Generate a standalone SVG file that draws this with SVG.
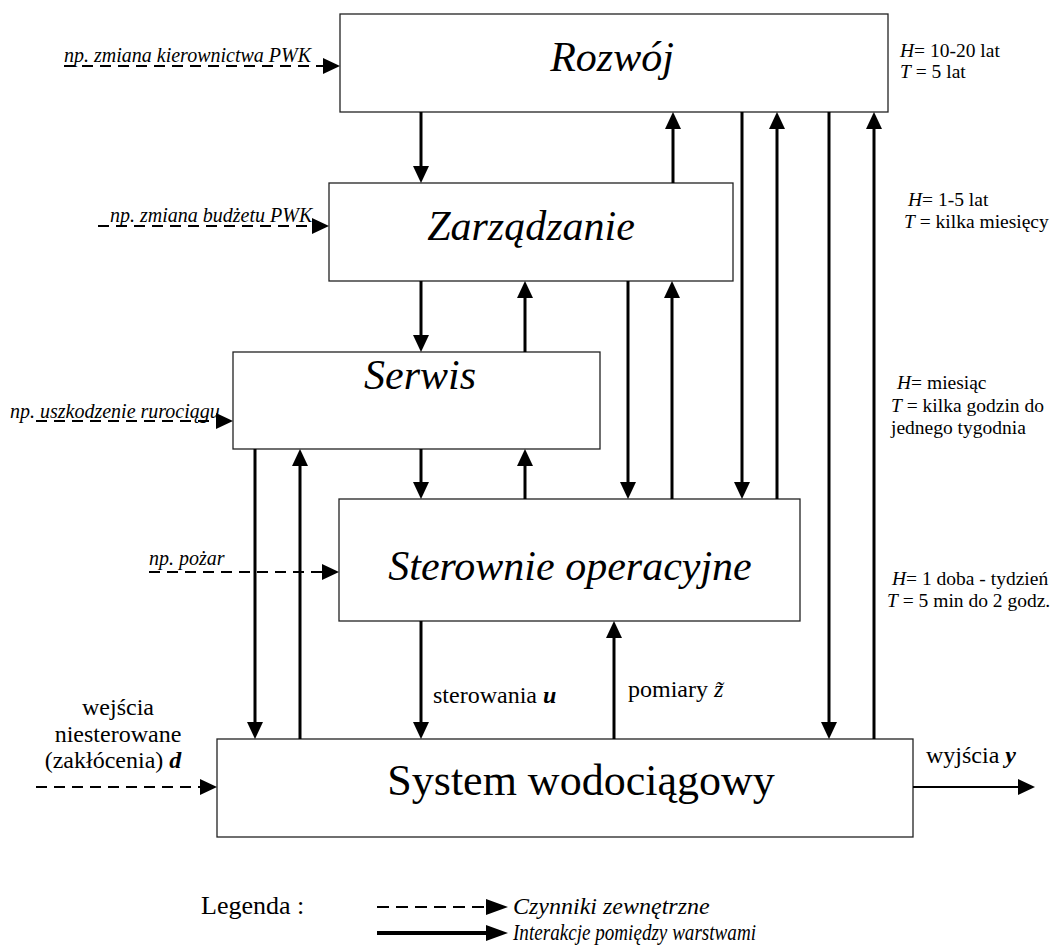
<svg xmlns="http://www.w3.org/2000/svg" width="1059" height="952" viewBox="0 0 1059 952">
<defs>
<marker id="ah" viewBox="0 0 17 16" markerWidth="17" markerHeight="16" refX="0" refY="8" markerUnits="userSpaceOnUse" orient="auto"><path d="M0,0 L17,8 L0,16 z" fill="#000"/></marker>
<marker id="ahL" viewBox="0 0 22 16" markerWidth="22" markerHeight="16" refX="0" refY="8" markerUnits="userSpaceOnUse" orient="auto"><path d="M0,0 L22,8 L0,16 z" fill="#000"/></marker>
</defs>
<style>
.box{fill:#fff;stroke:#222;stroke-width:1.3}
.title{font-family:"Liberation Serif",serif;font-style:italic;font-size:42px;fill:#000;text-anchor:middle}
.thick{stroke:#000;stroke-width:3;fill:none;marker-end:url(#ah)}
.dash{stroke:#000;stroke-width:2;stroke-dasharray:11 7;fill:none;marker-end:url(#ah)}
.ext{font-family:"Liberation Serif",serif;font-style:italic;font-size:20px;fill:#000}
.lbl{font-family:"Liberation Serif",serif;font-size:24px;fill:#000}
.side{font-family:"Liberation Serif",serif;font-size:19.5px;fill:#000}
.leg{font-family:"Liberation Serif",serif;font-style:italic;font-size:24px;fill:#000}
</style>
<rect width="1059" height="952" fill="#fff"/>
<g id="rozwoj"><rect class="box" x="340" y="14" width="548" height="98"/><text class="title" x="612" y="71" font-size="41">Rozwój</text></g>
<g id="zarzadzanie"><rect class="box" x="329" y="183" width="404" height="98"/><text class="title" x="531" y="240">Zarządzanie</text></g>
<g id="serwis"><rect class="box" x="233" y="352" width="367" height="97"/><text class="title" x="420" y="389">Serwis</text></g>
<g id="sterownie"><rect class="box" x="339" y="499" width="461" height="122"/><text class="title" x="570" y="580">Sterownie operacyjne</text></g>
<g id="system"><rect class="box" x="217" y="739" width="696" height="98"/><text x="581" y="795" font-family="Liberation Serif, serif" font-size="44" text-anchor="middle">System wodociągowy</text></g>
<g id="connectors">
<path class="thick" d="M421,112 V166"/>
<path class="thick" d="M673,183 V129"/>
<path class="thick" d="M742,112 V482"/>
<path class="thick" d="M777,499 V129"/>
<path class="thick" d="M829,112 V722"/>
<path class="thick" d="M874,739 V129"/>
<path class="thick" d="M421,281 V335"/>
<path class="thick" d="M525,352 V298"/>
<path class="thick" d="M628,281 V482"/>
<path class="thick" d="M672,499 V298"/>
<path class="thick" d="M255,449 V722"/>
<path class="thick" d="M300,739 V466"/>
<path class="thick" d="M421,449 V482"/>
<path class="thick" d="M525,499 V466"/>
<path class="thick" d="M421,621 V722"/>
<path class="thick" d="M614,739 V638"/>
<path class="dash" d="M64,66 H323"/>
<path class="dash" d="M98,226 H312"/>
<path class="dash" d="M36,421 H216"/>
<path class="dash" d="M149,572 H322"/>
<path class="dash" d="M36,787 H200"/>
<path d="M913,787 H1018" stroke="#000" stroke-width="2" marker-end="url(#ah)"/>
</g>
<g id="labels">
<text class="ext" x="64" y="62">np. zmiana kierownictwa PWK</text>
<text class="ext" x="110" y="222">np. zmiana budżetu PWK</text>
<text class="ext" x="10" y="418">np. uszkodzenie rurociągu</text>
<text class="ext" x="149" y="565">np. pożar</text>
<text class="lbl" x="118" y="715" text-anchor="middle">wejścia</text>
<text class="lbl" x="118" y="742" text-anchor="middle">niesterowane</text>
<text class="lbl" x="113" y="768" text-anchor="middle">(zakłócenia)  <tspan font-weight="bold" font-style="italic">d</tspan></text>
<text class="lbl" x="433" y="703" font-size="27">sterowania <tspan font-weight="bold" font-style="italic">u</tspan></text>
<text class="lbl" x="628" y="697" font-size="26">pomiary  <tspan font-style="italic">z̃</tspan></text>
<text class="lbl" x="926" y="763" font-size="27">wyjścia  <tspan font-weight="bold" font-style="italic">y</tspan></text>
<text class="side" x="900" y="57"><tspan font-style="italic">H</tspan>= 10-20 lat</text>
<text class="side" x="900" y="78"><tspan font-style="italic">T</tspan> = 5 lat</text>
<text class="side" x="908" y="206"><tspan font-style="italic">H</tspan>= 1-5 lat</text>
<text class="side" x="904" y="228"><tspan font-style="italic">T</tspan> = kilka miesięcy</text>
<text class="side" x="897" y="389"><tspan font-style="italic">H</tspan>= miesiąc</text>
<text class="side" x="891" y="412"><tspan font-style="italic">T</tspan> = kilka godzin do</text>
<text class="side" x="891" y="434">jednego tygodnia</text>
<text class="side" x="892" y="585"><tspan font-style="italic">H</tspan>= 1 doba - tydzień</text>
<text class="side" x="887" y="607"><tspan font-style="italic">T</tspan> = 5 min do 2 godz.</text>
</g>
<g id="legend">
<text x="201" y="914" font-family="Liberation Serif, serif" font-size="26">Legenda :</text>
<path d="M377,907 H486" stroke="#000" stroke-width="2" stroke-dasharray="12 7" marker-end="url(#ahL)"/>
<path d="M377,933 H486" stroke="#000" stroke-width="4" marker-end="url(#ahL)"/>
<text class="leg" x="513" y="914">Czynniki zewnętrzne</text>
<text class="leg" x="513" y="940" textLength="243" lengthAdjust="spacingAndGlyphs">Interakcje pomiędzy warstwami</text>
</g>
</svg>
